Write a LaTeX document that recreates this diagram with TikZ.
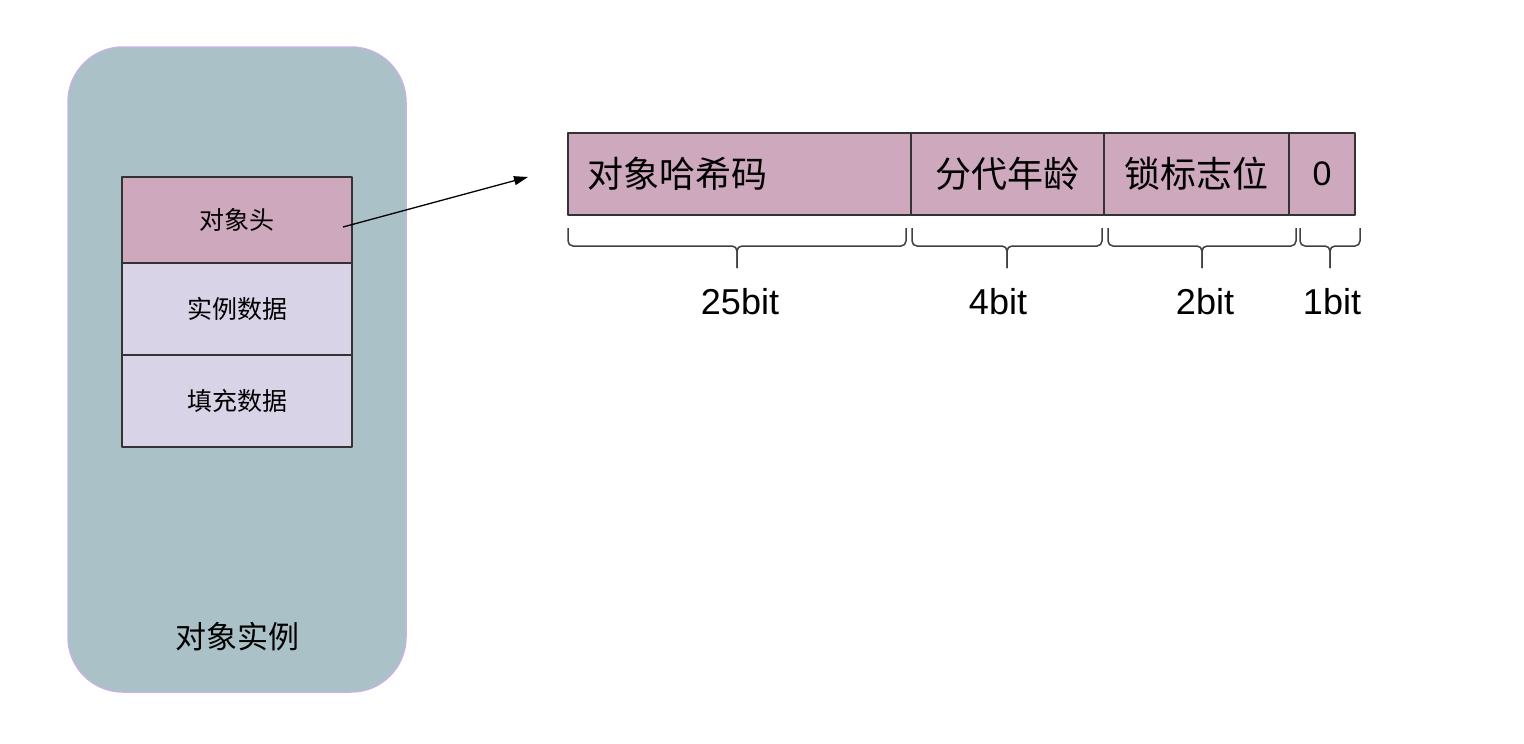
\documentclass[tikz,border=0pt]{standalone}
\usepackage{fontspec}
\setmainfont{Liberation Sans}
\newfontfamily\cjk{Noto Sans CJK SC}
\usetikzlibrary{arrows.meta}
\usetikzlibrary{positioning}
\definecolor{instfill}{HTML}{AAC2C7}
\definecolor{instline}{HTML}{C4B3E0}
\definecolor{headfill}{HTML}{CEA8BC}
\definecolor{bodyfill}{HTML}{D9D3E7}
\definecolor{cellline}{HTML}{333333}
\tikzset{
  partcell/.style={draw=cellline, line width=1.5pt, minimum width=230pt, outer sep=0pt, inner sep=0pt, font=\cjk\fontsize{25}{30}\selectfont},
  bitcell/.style={draw=cellline, fill=headfill, line width=1.5pt, minimum height=82pt, outer sep=0pt, inner sep=0pt, font=\cjk\fontsize{36}{42}\selectfont},
  bitbrace/.style={draw=black!75, line width=1.5pt, rounded corners=5pt},
  bitlabel/.style={font=\fontsize{36}{40}\selectfont}
}
\begin{document}
\begin{tikzpicture}[x=1pt,y=-1pt,line join=round,>={Triangle[length=14pt,width=9pt]}]
\useasboundingbox (0,0) rectangle (1524,744);
% object instance
\node [draw=instline, fill=instfill, line width=1.5pt, rounded corners=55pt, minimum width=338pt, minimum height=645pt] (inst) at (237,369.5) {};
\node [font=\cjk\fontsize{31}{36}\selectfont] (instname) at (237,637) {对象实例};
\node [partcell, fill=headfill, minimum height=86pt, anchor=north west] (head) at (122,177) {对象头};
\node [partcell, fill=bodyfill, minimum height=92pt, below=0pt of head] (data) {实例数据};
\node [partcell, fill=bodyfill, minimum height=92pt, below=0pt of data] (pad) {填充数据};
% mark word
\node [bitcell, minimum width=343pt, text width=305pt, inner xsep=19pt, align=left, anchor=north west] (hash) at (568,133) {对象哈希码};
\node [bitcell, minimum width=193pt, right=0pt of hash] (age) {分代年龄};
\node [bitcell, minimum width=185pt, right=0pt of age] (lock) {锁标志位};
\node [bitcell, minimum width=66pt, right=0pt of lock, font=\fontsize{34}{40}\selectfont] (zero) {0};
\coordinate (tip) at (528,177);
\draw [->, line width=1.3pt] ([xshift=-9pt,yshift=-7pt]head.east) -- (tip);
% widths
\foreach \xa/\xb/\xl/\bits in {568/906/740/25bit, 912/1102/998/4bit, 1108/1296/1205/2bit, 1300/1360/1332/1bit}{
  \pgfmathsetmacro\xm{(\xa+\xb)/2}
  \draw [bitbrace] (\xa,228) -- (\xa,246) -- (\xm,246) -- (\xm,268);
  \draw [bitbrace] (\xb,228) -- (\xb,246) -- (\xm,246) -- (\xm,268);
  \node [bitlabel] (w\bits) at (\xl,302) {\bits};
}
\end{tikzpicture}
\end{document}
